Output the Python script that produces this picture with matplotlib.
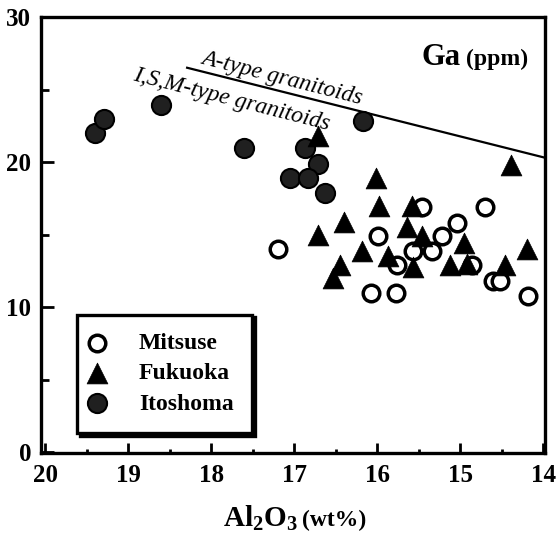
import numpy as np
import matplotlib
matplotlib.use('Agg')
from matplotlib import pyplot as plt

'''
Data read off the reference (Al2O3 wt% vs Ga ppm)
'''
mitsuse_al = [17.19, 15.99, 16.08, 15.78, 15.46, 15.04, 15.22, 15.57, 15.34, 15.76, 14.86, 14.70, 14.61, 14.52, 14.19]
mitsuse_ga = [14.0, 14.9, 11.0, 11.0, 16.9, 15.8, 14.9, 13.9, 13.9, 12.9, 12.9, 16.9, 11.8, 11.8, 10.8]

fukuoka_al = [16.71, 16.02, 14.39, 15.98, 15.58, 16.40, 16.71, 16.18, 16.45, 16.53,
              15.64, 15.87, 15.46, 15.57, 15.12, 14.92, 14.95, 14.46, 14.20]
fukuoka_ga = [21.8, 18.9, 19.8, 17.0, 17.0, 15.9, 15.0, 13.9, 12.9, 12.0,
              15.5, 13.5, 14.9, 12.8, 12.9, 13.0, 14.4, 12.9, 14.0]

itoshoma_al = [19.40, 19.29, 18.60, 17.61, 16.87, 16.71, 17.05, 16.83, 16.63, 16.17]
itoshoma_ga = [22.0, 23.0, 23.9, 21.0, 21.0, 19.9, 18.9, 18.9, 17.9, 22.8]

# A-type / I,S,M-type boundary
boundary_al = [18.29, 13.98]
boundary_ga = [26.5, 20.3]

xticks = [20, 19, 18, 17, 16, 15, 14]
yticks = [0, 10, 20, 30]

serif = ['Liberation Serif', 'DejaVu Serif']
plt.rcParams['font.family'] = serif
plt.rcParams['font.weight'] = 'bold'

fig = plt.figure(figsize=(5.57, 5.35), dpi=100)
ax = fig.add_axes([0.0736, 0.1533, 0.9048, 0.8150])

ax.scatter(mitsuse_al, mitsuse_ga, s=142, facecolor='white', edgecolor='black', linewidth=2.5, marker='o', label='Mitsuse', zorder=3)
ax.scatter(fukuoka_al, fukuoka_ga, s=225, facecolor='black', edgecolor='black', linewidth=0.5, marker='^', label='Fukuoka', zorder=4)
ax.scatter(itoshoma_al, itoshoma_ga, s=190, facecolor='#202020', edgecolor='black', linewidth=1.5, marker='o', label='Itoshoma', zorder=3)

ax.plot(boundary_al, boundary_ga, color='black', linewidth=1.6, zorder=2)
ax.text(17.15, 25.75, 'A-type granitoids', fontsize=17, style='italic', fontweight='normal',
        rotation=-14.3, rotation_mode='anchor', ha='center', va='center')
ax.text(17.75, 24.3, 'I,S,M-type granitoids', fontsize=17, style='italic', fontweight='normal',
        rotation=-14.3, rotation_mode='anchor', ha='center', va='center')

ax.set_xlim(20.05, 13.98)
ax.set_ylim(-0.05, 30)
ax.set_xticks(xticks)
ax.set_yticks(yticks)
ax.set_xticks(np.arange(14.5, 20, 1.0), minor=True)
ax.set_yticks([5, 15, 25], minor=True)
ax.tick_params(which='both', direction='in', width=2, labelsize=18)
ax.tick_params(axis='y', which='major', length=9, pad=7)
ax.tick_params(axis='y', which='minor', length=6)
ax.tick_params(axis='x', which='major', length=7, pad=8)
ax.tick_params(axis='x', which='minor', length=3)
for s in ax.spines.values():
    s.set_linewidth(2.4)

# Ga (ppm) label, top right
ax.text(0.755, 0.89, 'Ga', transform=ax.transAxes, fontsize=22, ha='left', va='baseline')
ax.text(0.843, 0.89, '(ppm)', transform=ax.transAxes, fontsize=17, ha='left', va='baseline')

# x label
fig.text(0.535, 0.016, r'$\mathregular{Al_2O_3}$', fontsize=21, ha='right', va='baseline')
fig.text(0.543, 0.016, '(wt%)', fontsize=17, ha='left', va='baseline')

leg = ax.legend(loc='lower left', bbox_to_anchor=(0.0714, 0.046), borderaxespad=0,
                fontsize=17, frameon=True, fancybox=False, edgecolor='black',
                handletextpad=1.74, labelspacing=0.36, borderpad=0.78, handlelength=0.1,
                shadow={'color': 'black', 'alpha': 1})
leg.get_frame().set_linewidth(2.4)

fig.savefig('out.png', dpi=100)
